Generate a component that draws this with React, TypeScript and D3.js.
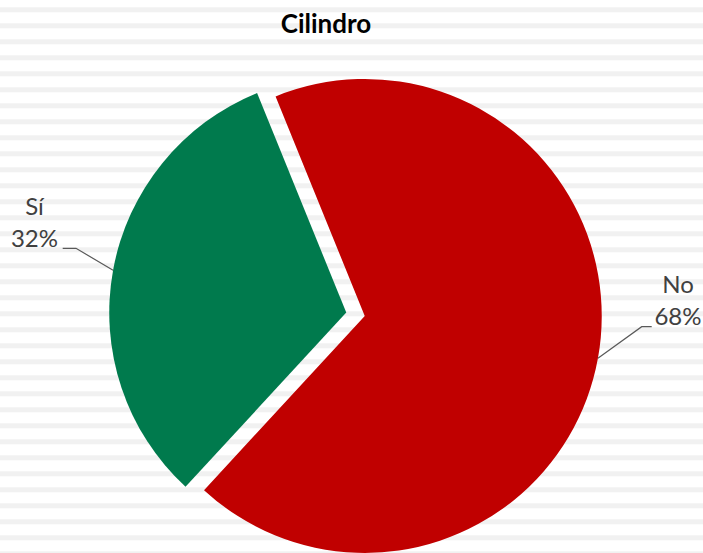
import React from "react";
import * as d3 from "d3";

const categories = ["Sí", "No"];
const values = [32, 68];
const percentLabels = ["32%", "68%"];
const colors = ["#007A4D", "#C00000"];
const title = "Cilindro";

const W = 703;
const H = 553;

export default function App() {
  const cx = 355.5;
  const cy = 314.3;
  const r = 237;
  const explode = 9.4;
  const start = (222.7 * Math.PI) / 180;

  const pie = d3
    .pie<number>()
    .sort(null)
    .value((d) => d)
    .startAngle(start)
    .endAngle(start + 2 * Math.PI);
  const arcs = pie(values);
  const arcGen = d3.arc<d3.PieArcDatum<number>>().innerRadius(0).outerRadius(r);

  const stripes = d3.range(0, 35).map((k) => 7.33 + 16 * k).filter((y) => y < H);

  const labelLayout = [
    { tx: 34.5, ty: 215, elbowX: 76, endX: 62.7, ly: 248.3 },
    { tx: 678, ty: 293, elbowX: 641.7, endX: 651.7, ly: 326.7 },
  ];

  return (
    <svg
      width={W}
      height={H}
      style={{ position: "absolute", left: 0, top: 0, background: "#fff" }}
      fontFamily="Lato, 'Open Sans', sans-serif"
    >
      <rect x={0} y={0} width={W} height={H} fill="#ffffff" />
      {stripes.map((y, i) => (
        <rect key={i} x={0} y={y} width={W} height={5} fill="#F1F1F1" />
      ))}
      {arcs.map((a, i) => {
        const mid = (a.startAngle + a.endAngle) / 2;
        const ox = cx + explode * Math.sin(mid);
        const oy = cy - explode * Math.cos(mid);
        const px = ox + r * Math.sin(mid);
        const py = oy - r * Math.cos(mid);
        const L = labelLayout[i];
        return (
          <g key={categories[i]}>
            <path d={arcGen(a) || ""} transform={`translate(${ox},${oy})`} fill={colors[i]} />
            <polyline
              points={`${px},${py} ${L.elbowX},${L.ly} ${L.endX},${L.ly}`}
              fill="none"
              stroke="#595959"
              strokeWidth={1.2}
            />
            <text x={L.tx} y={L.ty} textAnchor="middle" fontSize={24} fill="#404040">
              {categories[i]}
            </text>
            <text x={L.tx} y={L.ty + 31.5} textAnchor="middle" fontSize={24} fill="#404040">
              {percentLabels[i]}
            </text>
          </g>
        );
      })}
      <text x={326} y={33} textAnchor="middle" fontSize={26} fontWeight="bold" fill="#000">
        {title}
      </text>
    </svg>
  );
}
